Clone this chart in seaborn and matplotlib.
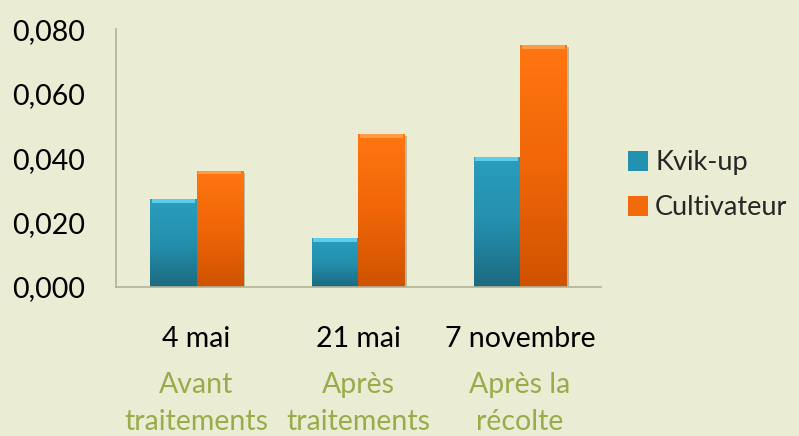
import numpy as np
import pandas as pd
import matplotlib
matplotlib.use("Agg")
import matplotlib.pyplot as plt
import seaborn as sns
from matplotlib import patheffects as pe
from matplotlib.colors import LinearSegmentedColormap

dates = ["4 mai", "21 mai", "7 novembre"]
phases = ["Avant\ntraitements", "Après\ntraitements", "Après la\nrécolte"]
series = ["Kvik-up", "Cultivateur"]
kvik_up = [0.0273, 0.0151, 0.0404]
cultivateur = [0.0361, 0.0474, 0.0750]
yticks = [0.0, 0.02, 0.04, 0.06, 0.08]

df = pd.DataFrame({
    "date": dates * 2,
    "serie": [series[0]] * 3 + [series[1]] * 3,
    "valeur": kvik_up + cultivateur,
})

BG = "#EBECD4"
TEAL = "#2391B0"
ORANGE = "#F26A0A"
GREEN = "#9AAB4C"
FS = 20.5

sns.set_theme(style="white")
plt.rcParams["font.family"] = ["Lato", "DejaVu Sans"]

fig = plt.figure(figsize=(7.99, 4.36), dpi=100, facecolor=BG)
ax = fig.add_axes([0.1447, 0.342, 0.6075, 0.591])
ax.set_facecolor(BG)

sns.barplot(data=df, x="date", y="valeur", hue="serie", order=dates,
            hue_order=series, palette=[TEAL, ORANGE], width=0.574,
            saturation=1, edgecolor="none", ax=ax, legend=True)

ax.set_xlim(-0.5, 2.5)
ax.set_ylim(0, 0.08)

grads = {
    TEAL: LinearSegmentedColormap.from_list("t", ["#1C6A80", "#2490AE", "#2A9DBD"]),
    ORANGE: LinearSegmentedColormap.from_list("o", ["#CF5200", "#F06608", "#FF7611"]),
}
tops = {TEAL: "#5CCDEB", ORANGE: "#FF9A45"}
patches = [p for p in ax.patches if p.get_height() > 0]
for i, p in enumerate(patches):
    col = TEAL if i < 3 else ORANGE
    x0, y0 = p.get_x(), p.get_y()
    w, h = p.get_width(), p.get_height()
    grad = np.linspace(0, 1, 256).reshape(-1, 1)
    im = ax.imshow(grad, cmap=grads[col], origin="lower", aspect="auto",
                   extent=[x0, x0 + w, y0, y0 + h], zorder=p.get_zorder() + 0.1)
    im.set_clip_path(p)
    p.set_path_effects([pe.SimplePatchShadow(offset=(1.5, -1.5), shadow_rgbFace="#8a8a70", alpha=0.5), pe.Normal()])
    ax.fill_between([x0 + 0.01, x0 + w - 0.01], y0 + h - 0.0012, y0 + h,
                    color=tops[col], zorder=p.get_zorder() + 0.2, linewidth=0)

ax.set_yticks(yticks)
ax.set_yticklabels([f"{v:.3f}".replace(".", ",") for v in yticks])
ax.set_xlabel("")
ax.set_ylabel("")
ax.tick_params(axis="both", length=0, labelsize=FS, colors="black")
ax.tick_params(axis="y", pad=22)
ax.tick_params(axis="x", pad=28)

for s in ["top", "right"]:
    ax.spines[s].set_visible(False)
for s in ["left", "bottom"]:
    ax.spines[s].set_color("#B3B398")
    ax.spines[s].set_linewidth(1.2)

for i, ph in enumerate(phases):
    ax.annotate(ph, xy=(i, 0), xycoords=("data", "axes fraction"),
                xytext=(0, -61), textcoords="offset points",
                ha="center", va="top", color=GREEN, fontsize=FS,
                linespacing=1.52)

handles, labels = ax.get_legend_handles_labels()
leg = ax.legend(handles, labels, loc="center left", bbox_to_anchor=(0.772, 0.575),
                bbox_transform=fig.transFigure, frameon=False, fontsize=19.5,
                handlelength=0.76, handleheight=0.76, handletextpad=0.25,
                labelspacing=0.75, borderaxespad=0)

fig.savefig("out.png", dpi=100, facecolor=BG)
